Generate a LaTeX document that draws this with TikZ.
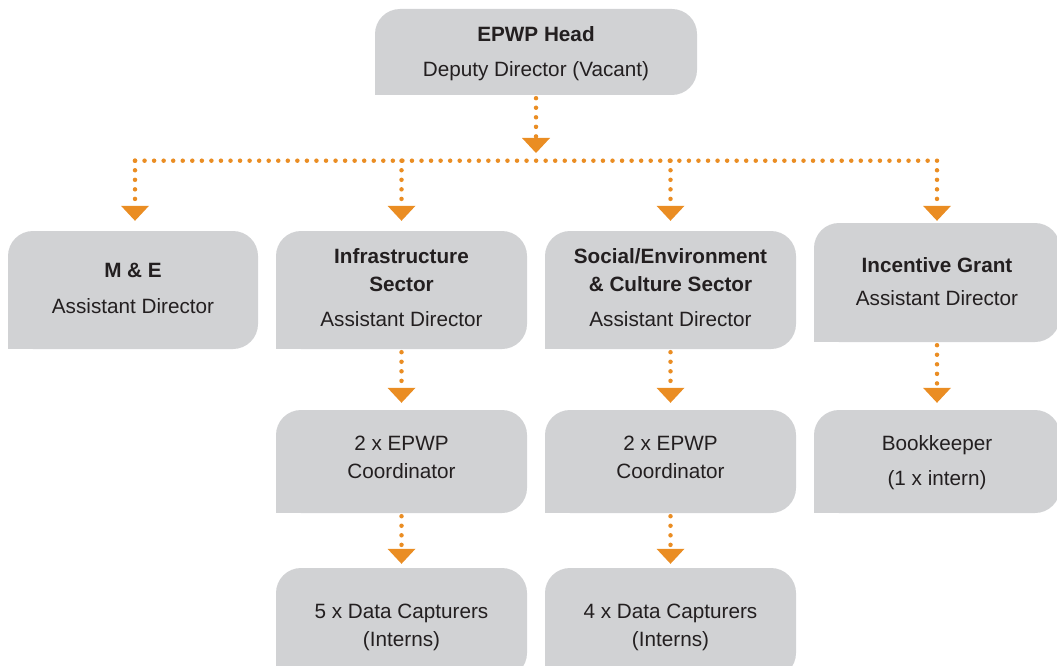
\documentclass[tikz,border=0pt]{standalone}
\usepackage{fontspec}
\setmainfont{Liberation Sans}
\usetikzlibrary{arrows.meta}
\definecolor{boxgray}{RGB}{209,210,212}
\definecolor{orgorange}{RGB}{234,141,35}
\definecolor{txtcol}{RGB}{35,31,32}
\newcommand\ls{\rule[-5.2pt]{0pt}{25.2pt}}
\begin{document}
\begin{tikzpicture}[x=1pt,y=-1pt,
  orgbox/.style={fill=boxgray, rounded corners=25pt, inner sep=0pt},
  orgtext/.style={text=txtcol, inner sep=0pt, align=center,
    font={\fontsize{20.7pt}{28pt}\selectfont}},
  dots/.style={draw=orgorange, line width=4.5pt, line cap=round,
    dash pattern=on 0pt off 9.55pt},
  conn/.style={dots, shorten <=3pt, shorten >=10pt,
    -{Triangle[width=28pt,length=15pt,line width=0pt]}}]
\useasboundingbox (0,0) rectangle (1057,666);

% boxes
\node[orgbox, minimum width=322pt, minimum height=86pt] (head) at (536,52) {};
\node[orgbox, minimum width=250pt, minimum height=118pt] (me) at (133,290) {};
\node[orgbox, minimum width=251pt, minimum height=118pt] (infra) at (401.5,290) {};
\node[orgbox, minimum width=251pt, minimum height=118pt] (social) at (670.5,290) {};
\node[orgbox, minimum width=246pt, minimum height=119pt] (incentive) at (937,282.5) {};
\node[orgbox, minimum width=251pt, minimum height=103pt] (coordA) at (401.5,461.5) {};
\node[orgbox, minimum width=251pt, minimum height=103pt] (coordB) at (670.5,461.5) {};
\node[orgbox, minimum width=246pt, minimum height=103pt] (book) at (937,461.5) {};
\node[orgbox, minimum width=251pt, minimum height=110pt] (dataA) at (401.5,623) {};
\node[orgbox, minimum width=251pt, minimum height=110pt] (dataB) at (670.5,623) {};
\foreach \n in {head,me,infra,social,incentive,coordA,coordB,book,dataA,dataB}
  \fill[boxgray] (\n.south west) rectangle ++(26pt,26pt);

% texts
\node[orgtext] (headT) at (536,51.75) {\textbf{EPWP Head}\ls\\[7pt]Deputy Director (Vacant)\ls};
\node[orgtext] (meT) at (133,288) {\textbf{M \& E}\ls\\[8pt]Assistant Director\ls};
\node[orgtext] (infraT) at (401.5,287.8) {\textbf{Infrastructure}\ls\\\textbf{Sector}\ls\\[7pt]Assistant Director\ls};
\node[orgtext] (socialT) at (670.5,287.8) {\textbf{Social/Environment}\ls\\\textbf{\& Culture Sector}\ls\\[7pt]Assistant Director\ls};
\node[orgtext] (incentiveT) at (937,281.8) {\textbf{Incentive Grant}\ls\\[5pt]Assistant Director\ls};
\node[orgtext] (coordAT) at (401.5,456.7) {2 x EPWP\ls\\Coordinator\ls};
\node[orgtext] (coordBT) at (670.5,456.7) {2 x EPWP\ls\\Coordinator\ls};
\node[orgtext] (bookT) at (937,460.8) {Bookkeeper\ls\\[7pt](1 x intern)\ls};
\node[orgtext] (dataAT) at (401.5,625.4) {5 x Data Capturers\ls\\(Interns)\ls};
\node[orgtext] (dataBT) at (670.5,625.4) {4 x Data Capturers\ls\\(Interns)\ls};

% connectors
\coordinate (hub) at (536,160.7);
\coordinate (barL) at (135,160.7);
\coordinate (barR) at (937,160.7);
\draw[dots] (barL) -- (barR);
\draw[conn, shorten >=7.7pt] (head.south) -- (hub);
\draw[conn, shorten <=0pt] (barL) -- (barL |- me.north);
\draw[conn, shorten <=0pt] (infra.north |- hub) -- (infra.north);
\draw[conn, shorten <=0pt] (social.north |- hub) -- (social.north);
\draw[conn, shorten <=0pt, shorten >=2pt] (barR) -- (incentive.north);
\draw[conn, shorten >=7pt] (infra.south) -- (coordA.north);
\draw[conn, shorten >=7pt] (social.south) -- (coordB.north);
\draw[conn, shorten >=7pt] (incentive.south) -- (book.north);
\draw[conn, shorten >=4pt] (coordA.south) -- (dataA.north);
\draw[conn, shorten >=4pt] (coordB.south) -- (dataB.north);
\end{tikzpicture}
\end{document}
